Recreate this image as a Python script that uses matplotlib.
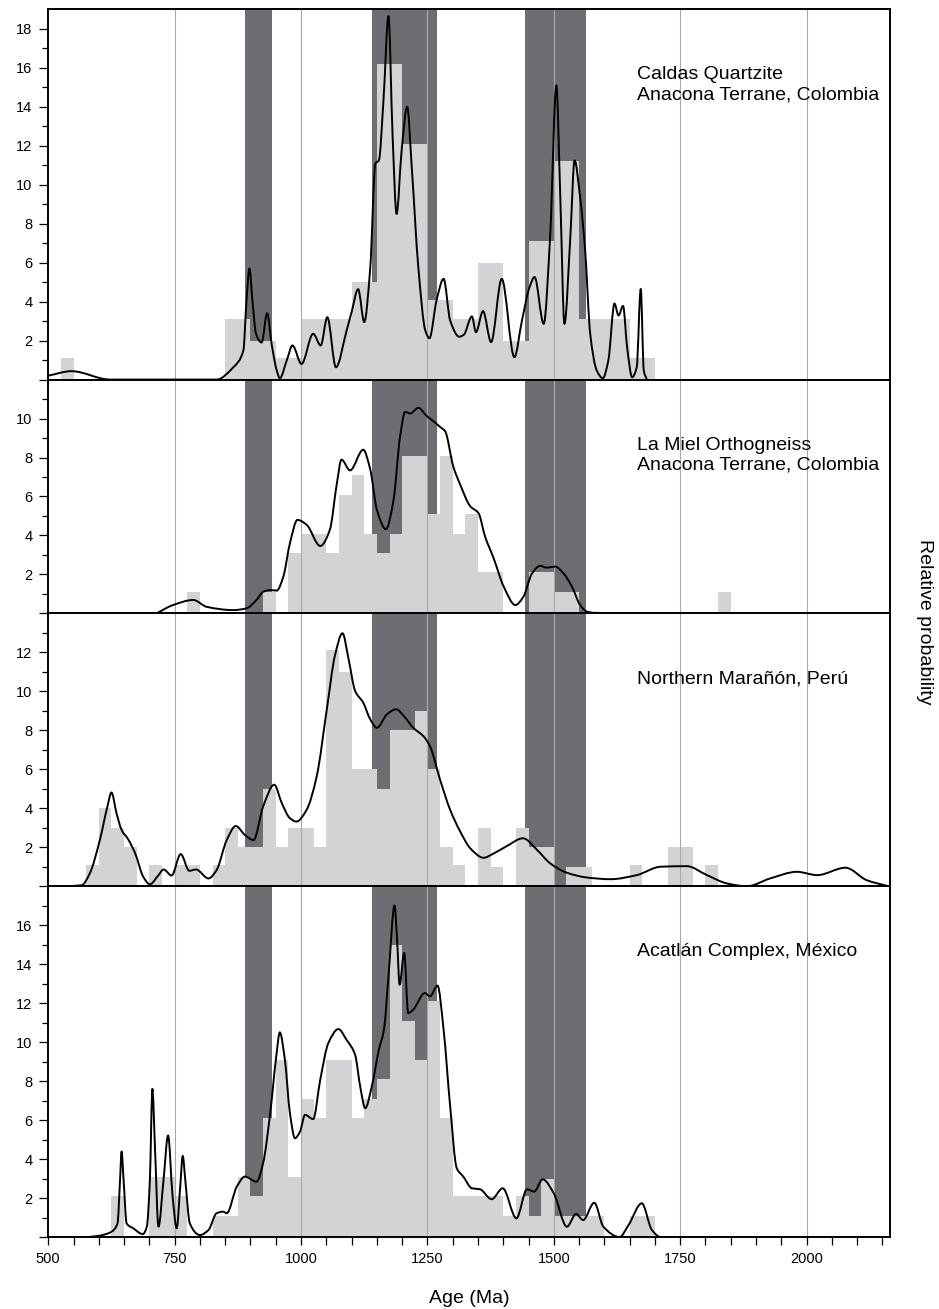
import numpy as np
import matplotlib
matplotlib.use("Agg")
import matplotlib.pyplot as plt
from matplotlib.ticker import MultipleLocator, FixedLocator, FuncFormatter
from matplotlib.path import Path
from matplotlib.patches import PathPatch

plt.rcParams['font.family'] = ['Liberation Sans', 'DejaVu Sans']

# shaded age intervals (Ma)
band_lo = [890, 1140, 1443]
band_hi = [942, 1268, 1564]
grid_x = [750, 1000, 1250, 1500, 1750, 2000]
bin_w = 25

# ---- Caldas Quartzite
caldas_bins = [525, 850, 875, 900, 925, 950, 975, 1000, 1025, 1050, 1075, 1100, 1125,
               1150, 1175, 1200, 1225, 1250, 1275, 1300, 1325, 1350, 1375, 1400, 1425,
               1450, 1475, 1500, 1525, 1550, 1575, 1600, 1625, 1650, 1675]
caldas_counts = [1.1, 3.1, 3.1, 2.0, 2.0, 1.1, 1.1, 3.1, 3.1, 3.1, 3.1, 5.0, 5.0,
                 16.2, 16.2, 12.1, 12.1, 4.1, 4.1, 3.1, 3.1, 6.0, 6.0, 2.0, 2.0,
                 7.1, 7.1, 11.2, 11.2, 3.1, 3.1, 3.1, 3.1, 1.1, 1.1]
caldas_age = [500, 546, 622, 833, 866, 886, 892, 898, 904, 911, 922, 933, 942, 952, 958,
              972, 983, 1001, 1024, 1039, 1052, 1069, 1090, 1100, 1113, 1125, 1137, 1147,
              1154, 1163, 1173, 1181, 1189, 1199, 1210, 1219, 1232, 1246, 1254, 1268, 1282,
              1295, 1313, 1322, 1338, 1346, 1360, 1376, 1397, 1422, 1437, 1452, 1462, 1480,
              1493, 1505, 1513, 1521, 1533, 1541, 1552, 1562, 1572, 1585, 1597, 1608, 1620,
              1628, 1637, 1645, 1655, 1664, 1672, 1678, 1684]
caldas_prob = [0.2, 0.43, 0.0, 0.0, 0.63, 1.5, 4.0, 5.7, 4.0, 2.35, 1.9, 3.4, 1.8, 0.46, 0.07,
               1.0, 1.75, 0.8, 2.35, 1.75, 3.2, 0.63, 2.5, 3.46, 4.64, 2.95, 5.77, 11.08,
               11.25, 14.3, 18.65, 12.6, 8.5, 11.76, 14.0, 10.9, 5.77, 2.5, 2.12, 4.06, 5.17,
               3.03, 2.2, 2.3, 3.24, 2.43, 3.51, 1.92, 5.17, 1.15, 3.03, 4.74, 5.26, 2.86,
               7.48, 15.1, 9.2, 2.86, 7.48, 11.25, 9.37, 6.63, 2.35, 0.46, 0.07, 1.0, 3.9,
               3.29, 3.78, 1.66, 0.12, 0.63, 4.65, 0.46, 0.0]

# ---- La Miel Orthogneiss
miel_bins = [775, 925, 975, 1000, 1025, 1050, 1075, 1100, 1125, 1150, 1175, 1200, 1225,
             1250, 1275, 1300, 1325, 1350, 1375, 1450, 1475, 1500, 1525, 1825]
miel_counts = [1.1, 1.1, 3.1, 4.1, 4.1, 3.1, 6.1, 7.1, 4.1, 3.1, 4.1, 8.1, 8.1,
               5.1, 8.1, 4.1, 5.1, 2.1, 2.1, 2.1, 2.1, 1.1, 1.1, 1.1]
miel_age = [714, 747, 787, 813, 866, 892, 912, 925, 939, 952, 965, 978, 993, 1011, 1038,
            1057, 1071, 1080, 1097, 1123, 1137, 1150, 1168, 1183, 1196, 1206, 1216, 1232,
            1249, 1262, 1275, 1285, 1301, 1315, 1335, 1351, 1364, 1381, 1401, 1424, 1440,
            1457, 1473, 1486, 1503, 1519, 1536, 1552, 1565, 1579, 1671]
miel_prob = [0.0, 0.43, 0.69, 0.34, 0.17, 0.26, 0.69, 1.11, 1.2, 1.17, 1.89, 3.6, 4.8, 4.55,
             3.46, 4.29, 6.69, 7.89, 7.34, 8.4, 7.38, 5.32, 4.32, 5.83, 9.09, 10.34, 10.26,
             10.55, 10.12, 9.86, 9.57, 9.35, 7.55, 6.6, 5.49, 5.15, 3.95, 2.83, 1.37, 0.43,
             0.86, 2.06, 2.44, 2.35, 2.4, 2.06, 1.37, 0.43, 0.1, 0.03, 0.0]

# ---- Northern Marañón
maranon_bins = [575, 600, 625, 650, 700, 750, 775, 825, 850, 875, 900, 925, 950, 975,
                1000, 1025, 1050, 1075, 1100, 1125, 1150, 1175, 1200, 1225, 1250, 1275,
                1300, 1350, 1375, 1425, 1450, 1475, 1525, 1550, 1650, 1725, 1750, 1800]
maranon_counts = [1.1, 4.0, 3.0, 2.0, 1.1, 1.1, 1.1, 1.1, 3.0, 2.0, 2.0, 5.0, 2.0, 3.0,
                  3.0, 2.0, 12.1, 11.0, 6.0, 6.0, 5.0, 8.0, 8.0, 9.0, 6.0, 2.0,
                  1.1, 3.0, 1.0, 3.0, 2.0, 2.0, 1.0, 1.0, 1.1, 2.0, 2.0, 1.1]
maranon_age = [533, 566, 582, 602, 617, 625, 635, 645, 658, 672, 688, 701, 718, 728, 744,
               762, 779, 792, 817, 833, 853, 871, 889, 906, 925, 947, 962, 978, 991, 1011,
               1031, 1051, 1067, 1082, 1094, 1107, 1123, 1137, 1150, 1170, 1188, 1206, 1222,
               1242, 1255, 1275, 1295, 1315, 1335, 1361, 1381, 1407, 1439, 1467, 1493, 1526,
               1565, 1612, 1664, 1711, 1763, 1803, 1843, 1882, 1928, 1981, 2021, 2077, 2119,
               2162]
maranon_prob = [0.0, 0.05, 0.65, 2.37, 4.09, 4.81, 3.75, 2.89, 2.41, 1.68, 0.48, 0.1, 0.57,
                0.86, 0.55, 1.65, 0.79, 0.86, 0.4, 0.83, 2.37, 3.09, 2.63, 2.37, 4.09, 5.21,
                4.26, 3.49, 3.32, 3.92, 5.64, 9.08, 11.83, 12.98, 11.66, 10.02, 9.42, 8.56,
                8.13, 8.82, 9.08, 8.65, 8.13, 7.7, 7.19, 5.47, 3.92, 2.8, 1.94, 1.46, 1.68,
                2.06, 2.46, 1.86, 1.17, 0.69, 0.45, 0.36, 0.57, 1.0, 1.03, 0.57, 0.14, 0.0,
                0.4, 0.74, 0.57, 0.95, 0.31, 0.0]

# ---- Acatlán Complex
acatlan_bins = [625, 700, 725, 750, 825, 850, 875, 900, 925, 950, 975, 1000, 1025, 1050,
                1075, 1100, 1125, 1150, 1175, 1200, 1225, 1250, 1275, 1300, 1325, 1350,
                1375, 1400, 1425, 1450, 1475, 1500, 1525, 1550, 1575, 1650, 1675]
acatlan_counts = [2.1, 3.1, 3.1, 2.1, 1.1, 1.1, 3.1, 2.1, 6.1, 9.1, 3.1, 7.1, 6.1, 9.1,
                  9.1, 6.1, 7.1, 8.1, 15.0, 11.1, 9.1, 12.1, 6.1, 2.1, 2.1, 2.1,
                  2.1, 1.1, 2.1, 1.1, 3.0, 1.1, 1.1, 1.1, 1.1, 1.1, 1.1]
acatlan_age = [579, 602, 625, 637, 642, 645, 649, 655, 668, 687, 695, 701, 706, 711, 718,
               728, 737, 746, 754, 761, 766, 771, 780, 800, 817, 833, 846, 853, 873, 889,
               912, 925, 939, 951, 958, 968, 978, 988, 998, 1008, 1024, 1038, 1054, 1074,
               1090, 1107, 1117, 1127, 1140, 1154, 1164, 1173, 1185, 1190, 1195, 1204, 1212,
               1222, 1245, 1255, 1270, 1282, 1295, 1308, 1321, 1338, 1354, 1377, 1399, 1426,
               1447, 1461, 1478, 1500, 1526, 1544, 1558, 1580, 1598, 1630, 1648, 1674, 1694,
               1711, 1803]
acatlan_prob = [0.0, 0.07, 0.27, 0.7, 2.93, 4.39, 2.93, 0.7, 0.45, 0.15, 0.53, 2.93, 7.6,
                4.64, 0.53, 2.93, 5.21, 2.07, 0.45, 2.59, 4.16, 2.93, 0.7, 0.1, 0.36, 1.22,
                1.3, 1.22, 2.59, 3.1, 2.84, 3.79, 6.36, 9.27, 10.5, 9.1, 6.36, 5.07, 5.41,
                6.27, 6.05, 8.07, 9.95, 10.67, 10.12, 9.35, 7.73, 6.61, 7.73, 9.61, 10.64,
                13.38, 17.01, 15.26, 12.95, 14.58, 11.49, 11.67, 12.52, 12.35, 12.9, 10.64,
                6.7, 3.53, 3.1, 2.5, 2.45, 1.94, 2.5, 0.96, 2.45, 2.33, 2.96, 2.24, 0.53,
                1.18, 0.87, 1.76, 0.53, 0.0, 0.62, 1.73, 0.36, 0.0, 0.0]

panels = [
    ("Caldas Quartzite\nAnacona Terrane, Colombia", 19, caldas_bins, caldas_counts, caldas_age, caldas_prob),
    ("La Miel Orthogneiss\nAnacona Terrane, Colombia", 12, miel_bins, miel_counts, miel_age, miel_prob),
    ("Northern Marañón, Perú", 14, maranon_bins, maranon_counts, maranon_age, maranon_prob),
    ("Acatlán Complex, México", 18, acatlan_bins, acatlan_counts, acatlan_age, acatlan_prob),
]


def smooth_path(x, y):
    # draw the read points as a smooth line: cubic bezier pieces with
    # monotone (Fritsch-Carlson) tangents so peaks stay rounded, no overshoot
    x = np.asarray(x, float)
    y = np.asarray(y, float)
    h = np.diff(x)
    d = np.diff(y) / h
    m = np.zeros_like(y)
    for k in range(1, len(x) - 1):
        if d[k - 1] * d[k] > 0:
            w1 = 2 * h[k] + h[k - 1]
            w2 = h[k] + 2 * h[k - 1]
            m[k] = (w1 + w2) / (w1 / d[k - 1] + w2 / d[k])
    m[0] = d[0]
    m[-1] = d[-1]
    verts = [(x[0], y[0])]
    codes = [Path.MOVETO]
    for k in range(len(h)):
        verts += [(x[k] + h[k] / 3, y[k] + m[k] * h[k] / 3),
                  (x[k + 1] - h[k] / 3, y[k + 1] - m[k + 1] * h[k] / 3),
                  (x[k + 1], y[k + 1])]
        codes += [Path.CURVE4] * 3
    return Path(verts, codes)


fig = plt.figure(figsize=(9.39, 13.09), dpi=100)
gs = fig.add_gridspec(4, 1, height_ratios=[p[1] for p in panels], hspace=0,
                      left=0.0514, right=0.9478, top=0.9929, bottom=0.055)

for i, (label, ytop, bins, counts, age, prob) in enumerate(panels):
    ax = fig.add_subplot(gs[i])
    for lo, hi in zip(band_lo, band_hi):
        ax.axvspan(lo, hi, color='#6d6e71', lw=0, zorder=1)
    ax.bar(bins, counts, width=bin_w, align='edge', color='#d1d3d4', linewidth=0, zorder=2)
    for gx in grid_x:
        ax.axvline(gx, color='#a7a9ac', lw=0.8, zorder=2.5)
    ax.add_patch(PathPatch(smooth_path(age, prob), fill=False, ec='black', lw=1.4,
                           zorder=3, joinstyle='round'))

    ax.set_xlim(500, 2165)
    ax.set_ylim(0, ytop)
    ax.yaxis.set_major_locator(FixedLocator(np.arange(0, ytop, 2)))
    ax.yaxis.set_minor_locator(FixedLocator(np.arange(1, ytop, 2)))
    ax.yaxis.set_major_formatter(FuncFormatter(lambda v, p: '' if v == 0 else '%d' % v))
    ax.tick_params(axis='y', which='major', direction='out', length=6.5, width=0.9,
                   labelsize=10.5, pad=5)
    ax.tick_params(axis='y', which='minor', direction='out', length=4, width=0.9)
    for s in ax.spines.values():
        s.set_linewidth(1.4)

    ax.annotate(label, xy=(1665, 1), xycoords=('data', 'axes fraction'),
                xytext=(0, -41), textcoords='offset points', va='top', ha='left',
                fontsize=14, linespacing=1.25, zorder=4)

    if i < 3:
        ax.tick_params(axis='x', which='both', bottom=False, labelbottom=False)
    else:
        ax.xaxis.set_major_locator(MultipleLocator(250))
        ax.xaxis.set_minor_locator(MultipleLocator(50))
        ax.tick_params(axis='x', which='both', direction='out', length=5.8, width=0.9)
        ax.tick_params(axis='x', which='major', labelsize=10.5, pad=5)

fig.text(0.4995, 0.0078, "Age (Ma)", ha='center', va='center', fontsize=14)
fig.text(0.985, 0.525, "Relative probability", ha='center', va='center',
         rotation=270, fontsize=14)

fig.savefig("out.png", dpi=100)
